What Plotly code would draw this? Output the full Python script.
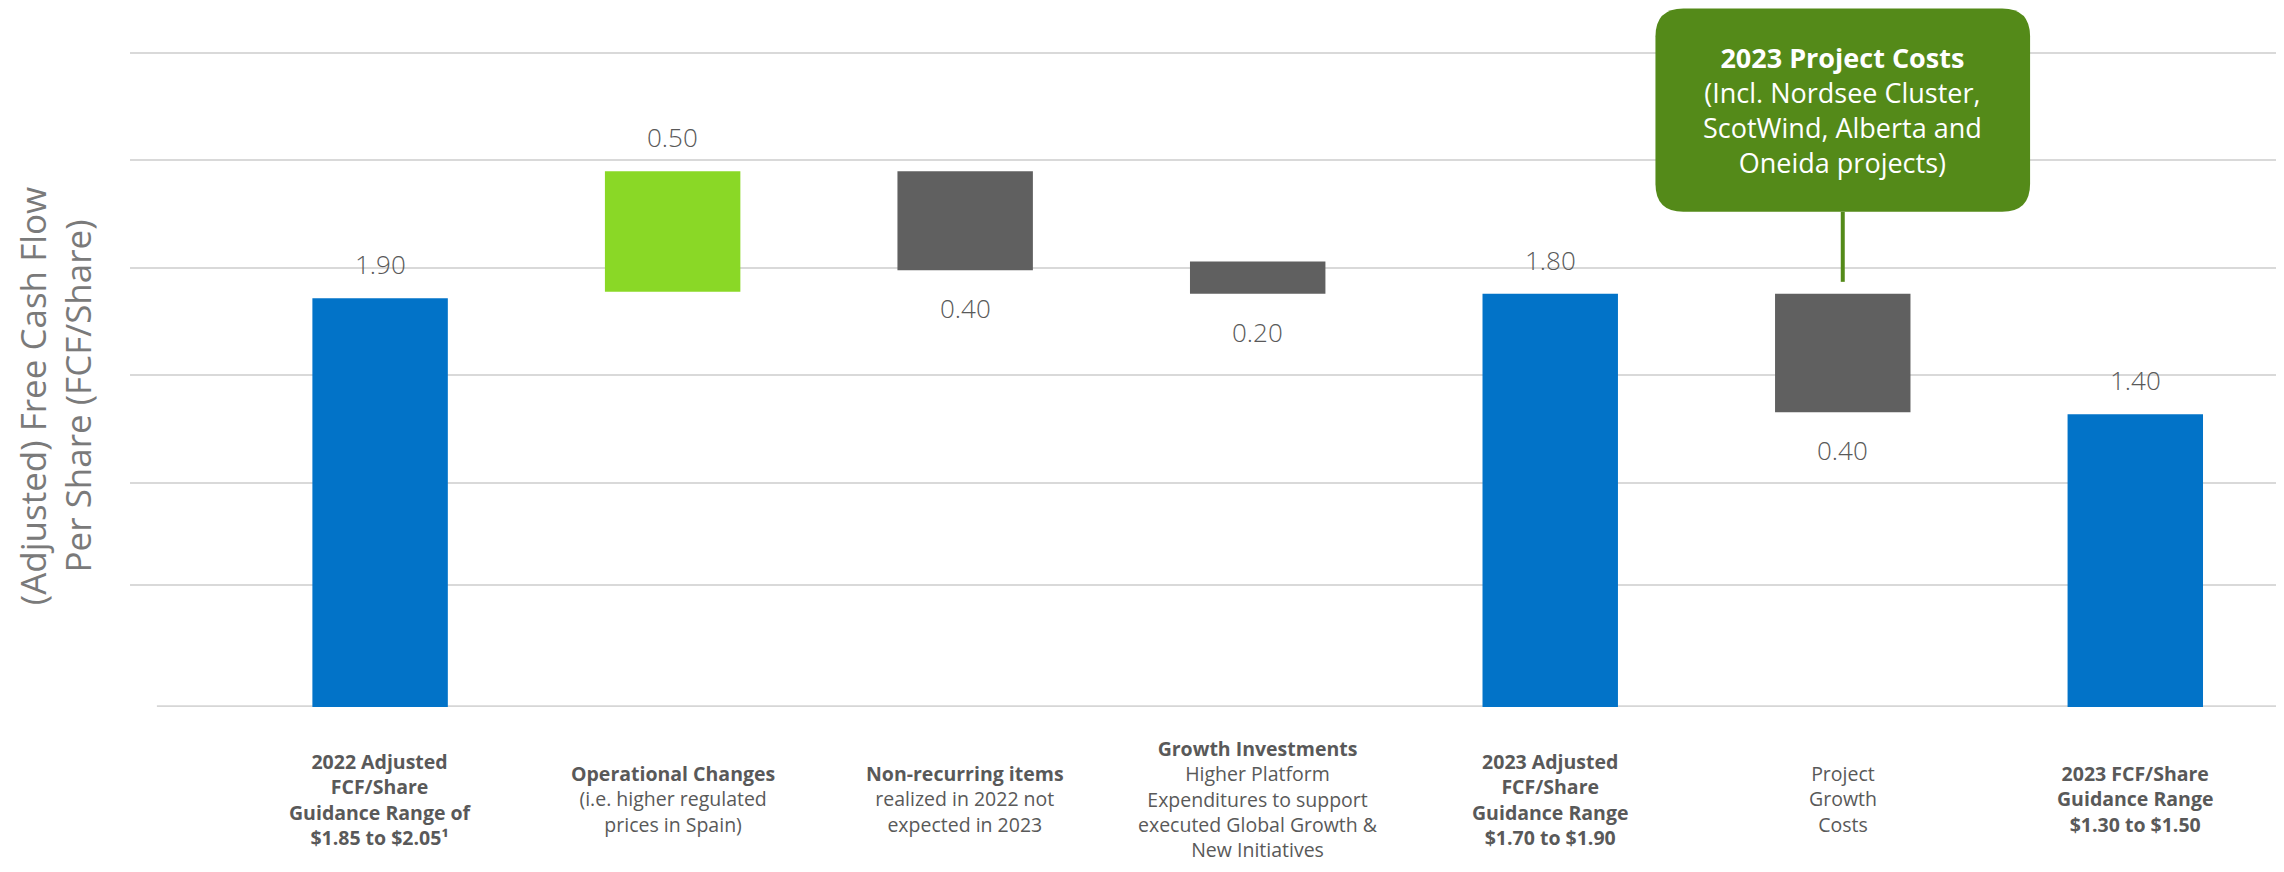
import plotly.graph_objects as go

# ---------------- data ----------------
categories = [
    "2022 Adjusted FCF/Share", "Operational Changes", "Non-recurring items",
    "Growth Investments", "2023 Adjusted FCF/Share", "Project Growth Costs",
    "2023 FCF/Share",
]
measures = ["total", "increase", "decrease", "decrease", "total", "decrease", "total"]
bar_bottom = [0.0, 1.93, 2.03, 1.92, 0.0, 1.37, 0.0]
bar_top = [1.90, 2.49, 2.49, 2.07, 1.92, 1.92, 1.36]
value_labels = ["1.90", "0.50", "0.40", "0.20", "1.80", "0.40", "1.40"]
category_labels = [
    "<b>2022 Adjusted<br>FCF/Share<br>Guidance Range of<br>$1.85 to $2.05¹</b>",
    "<b>Operational Changes</b><br>(i.e. higher regulated<br>prices in Spain)",
    "<b>Non-recurring items</b><br>realized in 2022 not<br>expected in 2023",
    "<b>Growth Investments</b><br>Higher Platform<br>Expenditures to support<br>executed Global Growth &<br>New Initiatives",
    "<b>2023 Adjusted<br>FCF/Share<br>Guidance Range<br>$1.70 to $1.90</b>",
    "Project<br>Growth<br>Costs",
    "<b>2023 FCF/Share<br>Guidance Range<br>$1.30 to $1.50</b>",
]
callout_category = "Project Growth Costs"
callout_text = ("<b>2023 Project Costs</b><br>(Incl. Nordsee Cluster,<br>"
                "ScotWind, Alberta and<br>Oneida projects)")
y_title = "(Adjusted) Free Cash Flow<br>Per Share (FCF/Share)"

# ---------------- styles ----------------
COLORS = {"total": "#0273C8", "increase": "#8AD826", "decrease": "#606060"}
CALLOUT_GREEN = "#548A19"
TEXT_GRAY = "#595959"
GRID = "#D9D9D9"
PX_PER_UNIT = 215.1
PX_PER_CAT = 293.6
PAGE_OFFSET = 8            # default body margin of the html page
W, H = 2284 - 2 * PAGE_OFFSET, 872 - 2 * PAGE_OFFSET
M_L = 130 - PAGE_OFFSET
PLOT_BOTTOM = 706.7 - PAGE_OFFSET
M_B = H - PLOT_BOTTOM
Y_MAX = PLOT_BOTTOM / PX_PER_UNIT
X_RANGE = [-0.855, 6.481]
grid_vals = [0.566, 1.04, 1.543, 2.041, 2.542, 3.037]

x_idx = list(range(len(categories)))
heights = [t - b for t, b in zip(bar_top, bar_bottom)]

fig = go.Figure()
fig.add_trace(go.Bar(
    x=x_idx, y=heights, base=bar_bottom,
    marker=dict(color=[COLORS[m] for m in measures], line=dict(width=0)),
    width=0.463, customdata=categories,
    hovertemplate="%{customdata}<extra></extra>",
    showlegend=False,
))

annotations = []
num_font = dict(family="Open Sans", size=26, color=TEXT_GRAY, weight=300)
for i, (lab, m) in enumerate(zip(value_labels, measures)):
    if m == "decrease":
        annotations.append(dict(x=i, y=bar_bottom[i], text=lab, showarrow=False,
                                yanchor="middle", yshift=-38, font=num_font))
    else:
        annotations.append(dict(x=i, y=bar_top[i], text=lab, showarrow=False,
                                yanchor="middle", yshift=34, font=num_font))

for i, lab in enumerate(category_labels):
    annotations.append(dict(x=i, xref="x", y=0, yref="paper", text=lab,
                            showarrow=False, yanchor="middle", yshift=-92,
                            align="center",
                            font=dict(family="Open Sans", size=19.5, color=TEXT_GRAY)))

# y-axis title
annotations.append(dict(text=y_title, xref="paper", yref="paper", x=0,
                        y=1 - (396 - PAGE_OFFSET) / PLOT_BOTTOM,
                        xanchor="center", yanchor="middle", xshift=55 - 130,
                        textangle=-90, showarrow=False, align="center",
                        font=dict(family="Open Sans", size=35, color="#7A7A7A")))

# callout box
ci = categories.index(callout_category)
box_hw = 188 / PX_PER_CAT
box_top, box_bot = min(3.254, Y_MAX - 0.002), 2.301
rx, ry = 28 / PX_PER_CAT, 28 / PX_PER_UNIT
x0, x1 = ci - box_hw, ci + box_hw
path = (f"M {x0+rx},{box_top} L {x1-rx},{box_top} Q {x1},{box_top} {x1},{box_top-ry} "
        f"L {x1},{box_bot+ry} Q {x1},{box_bot} {x1-rx},{box_bot} "
        f"L {x0+rx},{box_bot} Q {x0},{box_bot} {x0},{box_bot+ry} "
        f"L {x0},{box_top-ry} Q {x0},{box_top} {x0+rx},{box_top} Z")
shapes = [
    dict(type="path", path=path, xref="x", yref="y", fillcolor=CALLOUT_GREEN,
         line=dict(width=0), layer="above"),
    dict(type="line", xref="x", yref="y", x0=ci, x1=ci, y0=box_bot,
         y1=bar_top[ci] + 12 / PX_PER_UNIT, line=dict(color=CALLOUT_GREEN, width=4)),
    # baseline (category axis line)
    dict(type="line", xref="x", yref="y", x0=X_RANGE[0] + 27 / PX_PER_CAT,
         x1=X_RANGE[1], y0=0, y1=0, line=dict(color="#D6D6D6", width=3.5),
         layer="below"),
]
annotations.append(dict(x=ci, y=2.772, text=callout_text,
                        showarrow=False, align="center", yanchor="middle",
                        font=dict(family="Open Sans", size=27, color="white")))

fig.update_layout(
    width=W, height=H,
    margin=dict(l=M_L, r=0, t=0, b=M_B),
    paper_bgcolor="white", plot_bgcolor="white",
    bargap=0.5,
    xaxis=dict(range=X_RANGE, showgrid=False, zeroline=False,
               showticklabels=False, ticks="", showline=False),
    yaxis=dict(range=[0, Y_MAX], tickvals=grid_vals, showticklabels=False,
               ticks="", showgrid=True, gridcolor=GRID, gridwidth=2,
               zeroline=False, showline=False),
    annotations=annotations,
    shapes=shapes,
)

fig.write_html("out.html")
